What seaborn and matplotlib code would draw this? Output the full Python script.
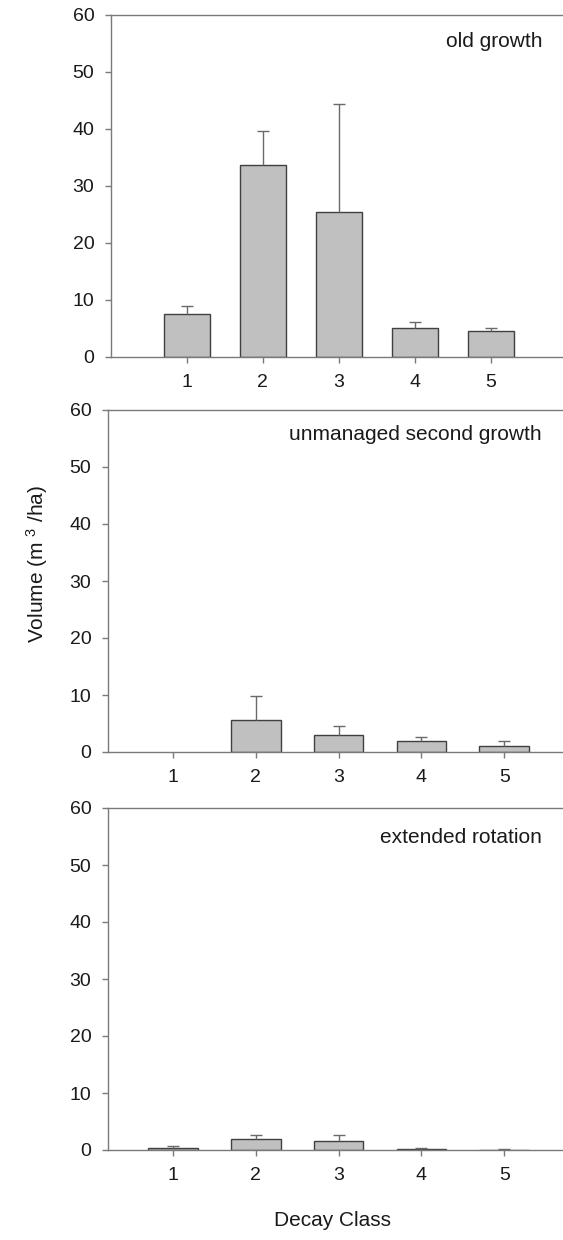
import matplotlib
matplotlib.use("Agg")
import matplotlib.pyplot as plt
import seaborn as sns
import numpy as np
import pandas as pd

# ---- data ----
decay_class = [1, 2, 3, 4, 5]
panel_names = ["old growth", "unmanaged second growth", "extended rotation"]
old_growth = [7.5, 33.7, 25.4, 5.0, 4.6]
old_growth_err = [1.5, 5.9, 19.0, 1.2, 0.5]
unmanaged = [0.0, 5.7, 3.0, 1.9, 1.05]
unmanaged_err = [0.0, 4.2, 1.5, 0.8, 0.85]
extended = [0.4, 1.9, 1.6, 0.25, 0.08]
extended_err = [0.3, 0.8, 1.0, 0.15, 0.07]
y_ticks = [0, 10, 20, 30, 40, 50, 60]

series = [old_growth, unmanaged, extended]
errors = [old_growth_err, unmanaged_err, extended_err]

sns.set_style("white")
plt.rcParams["font.family"] = ["Liberation Sans", "DejaVu Sans"]
plt.rcParams["mathtext.fontset"] = "custom"
plt.rcParams["mathtext.rm"] = "Liberation Sans"
plt.rcParams["mathtext.it"] = "Liberation Sans"

W, H = 563, 1240
fig = plt.figure(figsize=(W / 100, H / 100), dpi=100)

# axes pixel boxes: left, top, right, bottom
boxes = [(111, 15, 563, 357), (108, 410, 563, 752), (108, 808, 563, 1150)]
xlims = [(0.0, 5.95), (0.215, 5.71), (0.215, 5.71)]
label_offsets = [0.093, 0.088, 0.102]

spine_col = "#7a7a7a"
text_col = "#1a1a1a"

for i in range(3):
    l, t, r, b = boxes[i]
    ax = fig.add_axes([l / W, 1 - b / H, (r - l) / W, (b - t) / H])
    df = pd.DataFrame({"cls": decay_class, "vol": series[i]})
    sns.barplot(data=df, x="cls", y="vol", native_scale=True, width=0.6,
                color="#c0c0c0", saturation=1, edgecolor="#404040",
                linewidth=1.0, errorbar=None, ax=ax, zorder=2)
    for p in ax.patches:
        if p.get_height() <= 0:
            p.set_visible(False)
    err = np.array(errors[i])
    vals = np.array(series[i])
    mask = err > 0
    x = np.array(decay_class)[mask]
    eb = ax.errorbar(x, vals[mask], yerr=[np.zeros(mask.sum()), err[mask]],
                     fmt="none", ecolor="#6a6a6a", elinewidth=1.0,
                     capsize=4, capthick=1.0, zorder=3)
    eb[1][0].set_visible(False)
    ax.set_xlim(*xlims[i])
    ax.set_ylim(0, 60)
    ax.set_xticks(decay_class)
    ax.set_xticklabels([str(c) for c in decay_class])
    ax.set_yticks(y_ticks)
    ax.set_xlabel("")
    ax.set_ylabel("")
    ax.spines["right"].set_visible(False)
    for s in ["left", "bottom", "top"]:
        ax.spines[s].set_color(spine_col)
        ax.spines[s].set_linewidth(1.0)
    ax.tick_params(axis="both", which="major", direction="out", length=4,
                   width=1.0, color=spine_col, labelsize=14, labelcolor=text_col,
                   pad=8, bottom=True, left=True)
    ax.text(0.954, 1 - label_offsets[i], panel_names[i], transform=ax.transAxes,
            ha="right", va="baseline", fontsize=15, color=text_col)

fig.text(37 / W, 1 - 564 / H, "Volume (m $^{3}$ /ha)", rotation=90,
         ha="center", va="center", fontsize=15, color=text_col)
fig.text(333 / W, 1 - 1220 / H, "Decay Class", ha="center", va="center",
         fontsize=15, color=text_col)

fig.savefig("out.png", dpi=100)
